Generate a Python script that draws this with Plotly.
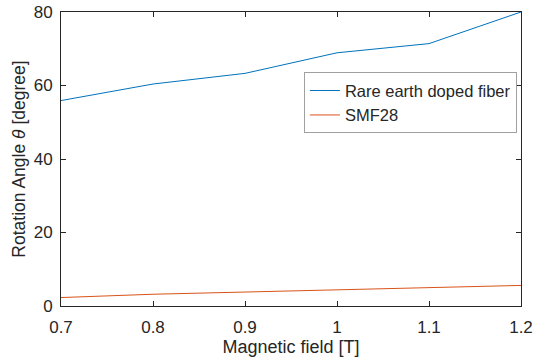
import plotly.graph_objects as go

field = [0.7, 0.8, 0.9, 1.0, 1.1, 1.2]
rare_earth = [55.9, 60.4, 63.3, 68.9, 71.4, 80.0]
smf28 = [2.3, 3.2, 3.8, 4.45, 5.1, 5.6]
x_ticks = [0.7, 0.8, 0.9, 1.0, 1.1, 1.2]
x_ticklabels = ["0.7", "0.8", "0.9", "1", "1.1", "1.2"]
y_ticks = [0, 20, 40, 60, 80]

fig = go.Figure()
fig.add_trace(go.Scatter(x=field, y=rare_earth, mode="lines", name="Rare earth doped fiber",
                         line=dict(color="#0072BD", width=1)))
fig.add_trace(go.Scatter(x=field, y=smf28, mode="lines", name="SMF28",
                         line=dict(color="#D95319", width=1)))

font = "Liberation Sans, Arial, sans-serif"
axis_common = dict(showline=True, linecolor="#262626", linewidth=1, mirror="allticks",
                   ticks="inside", ticklen=5, tickcolor="#262626", showgrid=False, zeroline=False,
                   tickfont=dict(family=font, size=17, color="#262626"))

fig.update_layout(
    width=534, height=362,
    margin=dict(l=61, r=13, t=12, b=56, autoexpand=False),
    paper_bgcolor="white", plot_bgcolor="white",
    font=dict(family=font, size=17, color="#262626"),
    xaxis=dict(range=[0.7, 1.2], tickvals=x_ticks, ticktext=x_ticklabels, ticklabelstandoff=6,
               title=dict(text="Magnetic field [T]", font=dict(size=18), standoff=3), **axis_common),
    yaxis=dict(range=[0, 80], tickvals=y_ticks, ticklabelstandoff=4,
               title=dict(text="Rotation Angle <i>θ</i> [degree]", font=dict(size=17.5), standoff=3), **axis_common),
    legend=dict(x=0.528, y=0.795, xanchor="left", yanchor="top", bordercolor="#A0A0A0", borderwidth=1,
                bgcolor="white", font=dict(size=16.5), tracegroupgap=0, itemwidth=30),
    showlegend=True,
)

fig.write_html("out.html", config={"displayModeBar": False},
               post_script="document.body.style.margin='0';")
